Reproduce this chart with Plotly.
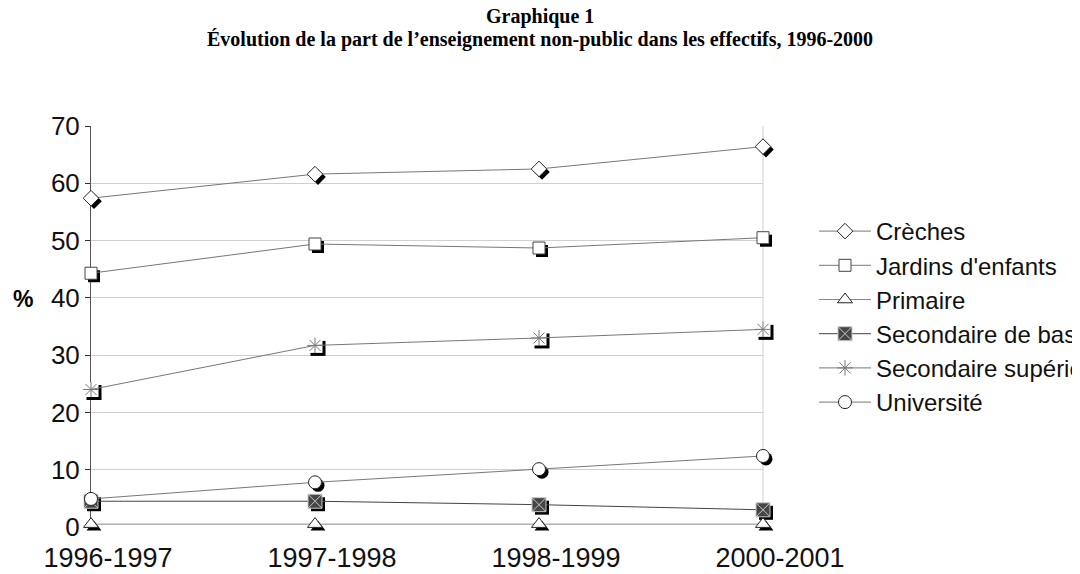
import plotly.graph_objects as go

categories = ["1996-1997", "1997-1998", "1998-1999", "2000-2001"]
series_names = ["Crèches", "Jardins d'enfants", "Primaire", "Secondaire de base",
                "Secondaire supérieur", "Université"]
creches = [57.4, 61.6, 62.5, 66.4]
jardins = [44.3, 49.4, 48.7, 50.5]
primaire = [0.5, 0.5, 0.5, 0.5]
sec_base = [4.5, 4.5, 3.9, 3.0]
sec_sup = [24.0, 31.7, 33.0, 34.5]
universite = [4.9, 7.8, 10.1, 12.4]
y_ticks = [0, 10, 20, 30, 40, 50, 60, 70]

values = [creches, jardins, primaire, sec_base, sec_sup, universite]
xpos = list(range(len(categories)))
symbols = ["diamond", "square", "triangle-up", "square-x", "asterisk", "circle"]
sizes = [12, 12, 13, 14, 13, 13]
fills = ["white", "white", "white", "#454545", "white", "white"]
edges = ["#222", "#444", "#222", "#c8c8c8", "#777", "#222"]
line_cols = ["#777", "#777", "#888", "#444", "#777", "#777"]
shadow_symbols = ["diamond", "square", "triangle-up", "square", "square", "circle"]
shadow_sizes = [12, 12, 13, 14, 15, 13]

# page body has an 8px margin; figure sized so the plot lands where the reference has it
W, H = 1072, 566
L, T = 83, 118
pw, ph = 672, 401          # visible plot area (pixels)
EX, EY = 24, 24            # extra room right / below for the offset shadows
P, PH = pw + EX, ph + EY   # whole paper area
R = W - L - P
B = H - T - PH
xmin, xmax = 0, len(categories) - 1
ymin, ymax = 0, 70
sx = pw / (xmax - xmin)
sy = ph / (ymax - ymin)
dx, dy = 3 / sx, 3 / sy
dom_x = [0, pw / P]
dom_y = [EY / PH, 1]


def px_x(p):
    return (p - 8 - L) / P


def px_y(p):
    return (T + PH - (p - 8)) / PH


fig = go.Figure()

# invisible anchor trace keeps the base (grid) subplot alive
fig.add_trace(go.Scatter(x=[xmin, xmax], y=[ymin, ymax], mode="markers", xaxis="x", yaxis="y",
                         marker=dict(opacity=0), showlegend=False, hoverinfo="skip"))
# shadows on a slightly shifted, larger subplot (3px right, 3px down)
for v, s, sz in zip(values, shadow_symbols, shadow_sizes):
    fig.add_trace(go.Scatter(x=xpos, y=v, mode="markers", xaxis="x2", yaxis="y2",
                             marker=dict(symbol=s, size=sz, color="black", line=dict(width=0)),
                             showlegend=False, hoverinfo="skip", cliponaxis=False))
# white backing behind the asterisk
fig.add_trace(go.Scatter(x=xpos, y=sec_sup, mode="markers", xaxis="x3", yaxis="y3",
                         marker=dict(symbol="square", size=15, color="white", line=dict(width=0)),
                         showlegend=False, hoverinfo="skip", cliponaxis=False))
# main series
for name, v, s, sz, f, e, lc in zip(series_names, values, symbols, sizes, fills, edges, line_cols):
    fig.add_trace(go.Scatter(x=xpos, y=v, name=name, legendgroup=name, mode="lines+markers",
                             xaxis="x3", yaxis="y3",
                             line=dict(color=lc, width=1),
                             marker=dict(symbol=s, size=sz, color=f, line=dict(color=e, width=1)),
                             cliponaxis=False))

ann = []
for txt, p in [("Graphique 1", 17), ("Évolution de la part de l’enseignement non-public dans les effectifs, 1996-2000", 40)]:
    ann.append(dict(text="<b>" + txt + "</b>", xref="paper", yref="paper",
                    x=px_x(540), y=px_y(p), showarrow=False,
                    xanchor="center", yanchor="middle",
                    font=dict(family="Liberation Serif", size=20, color="black")))
ann.append(dict(text="<b>%</b>", xref="paper", yref="paper", x=px_x(23), y=px_y(299),
                showarrow=False, xanchor="center", yanchor="middle",
                font=dict(family="Liberation Sans", size=23, color="black")))

fig.update_layout(
    width=W, height=H,
    margin=dict(l=L, r=R, t=T, b=B, autoexpand=False),
    paper_bgcolor="white", plot_bgcolor="rgba(0,0,0,0)",
    xaxis=dict(domain=dom_x, anchor="y", range=[xmin, xmax], tickvals=xpos,
               ticktext=categories, showgrid=False, zeroline=False, showline=False,
               ticks="", tickfont=dict(family="Liberation Sans", size=27, color="#111"),
               ticklabelstandoff=12, ticklabelshift=17),
    yaxis=dict(domain=dom_y, anchor="x", range=[ymin, ymax], tickvals=y_ticks,
               showgrid=True, gridcolor="#cfcfcf", gridwidth=1, zeroline=False,
               showline=True, linecolor="#555", linewidth=1,
               ticks="outside", ticklen=5, tickcolor="#333",
               tickfont=dict(family="Liberation Sans", size=26, color="#111")),
    xaxis2=dict(domain=[0, 1], anchor="y2",
                range=[xmin - dx, xmin - dx + P / sx], visible=False),
    yaxis2=dict(domain=[0, 1], anchor="x2",
                range=[ymax + dy - PH / sy, ymax + dy], visible=False),
    xaxis3=dict(domain=dom_x, anchor="y3", range=[xmin, xmax], visible=False),
    yaxis3=dict(domain=dom_y, anchor="x3", range=[ymin, ymax], visible=False),
    legend=dict(x=px_x(814), xanchor="left", y=px_y(209), yanchor="top",
                font=dict(family="Liberation Sans", size=24, color="#111"),
                tracegroupgap=0, itemwidth=52, bgcolor="rgba(0,0,0,0)"),
    shapes=[dict(type="line", xref="paper", yref="paper", x0=dom_x[1], x1=dom_x[1],
                 y0=dom_y[0], y1=1, line=dict(color="#cfcfcf", width=1), layer="below")],
    annotations=ann,
)

fig.write_html("out.html")
